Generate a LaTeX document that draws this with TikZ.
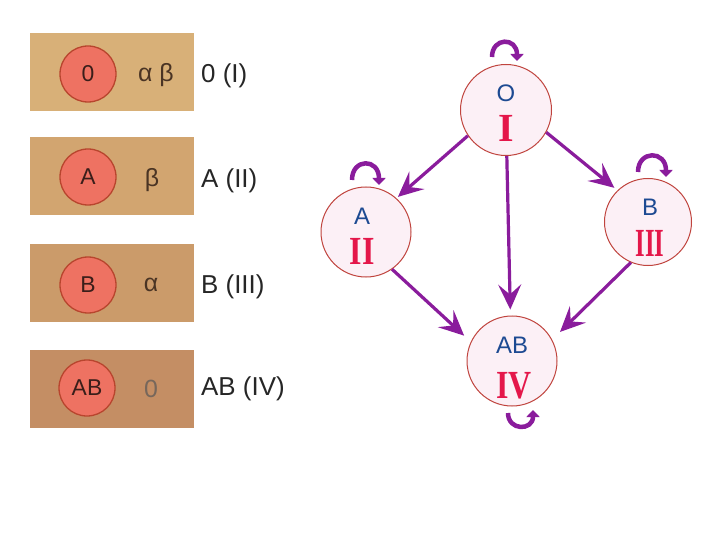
\documentclass[tikz,border=0pt]{standalone}
\usepackage{fontspec}
\setmainfont{Liberation Sans}
\newfontfamily\romfont{Liberation Serif}
\usetikzlibrary{arrows.meta}
\definecolor{tanA}{HTML}{D8B078}
\definecolor{tanB}{HTML}{D2A570}
\definecolor{tanC}{HTML}{CB9B6A}
\definecolor{tanD}{HTML}{C48E64}
\definecolor{cellred}{HTML}{EE7262}
\definecolor{celledge}{HTML}{B8452E}
\definecolor{celltext}{HTML}{3A1E1A}
\definecolor{greektext}{HTML}{4A3424}
\definecolor{grpedge}{HTML}{C0443E}
\definecolor{grpfill}{HTML}{FCF0F6}
\definecolor{grpblue}{HTML}{1D4A92}
\definecolor{grpred}{HTML}{E4174A}
\definecolor{arrowpurple}{HTML}{8A1C9C}
\begin{document}
\begin{tikzpicture}[x=1bp,y=-1bp,
  bloodbox/.style={rectangle, fill=#1, draw=none, minimum width=164bp, minimum height=78bp, inner sep=0, anchor=north west},
  cell/.style={circle, fill=cellred, draw=celledge, line width=1.3bp, minimum size=56bp, inner sep=0, font=\fontsize{23}{23}\selectfont, text=celltext},
  greek/.style={font=\fontsize{25}{25}\selectfont, text=greektext, inner sep=0},
  grouplabel/.style={anchor=west, inner sep=0, font=\fontsize{26}{26}\selectfont, text=black!85},
  group/.style={circle, draw=grpedge, fill=grpfill, line width=1bp, minimum size=90bp, inner sep=0},
  letter/.style={text=grpblue, font=\fontsize{24}{24}\selectfont, inner sep=0},
  numeral/.style={text=grpred, font=\romfont\bfseries\fontsize{40}{40}\selectfont, inner sep=0},
  flow/.style={draw=arrowpurple, line width=3.2bp, -{Stealth[length=25bp,width=23bp,inset=10bp]}},
  selfloop/.style={draw=arrowpurple, line width=4.5bp, -{Triangle[length=7bp,width=13bp]}}
]
\useasboundingbox (0,0) rectangle (720,540);
\fill[white] (0,0) rectangle (720,540);

% left panel
\node[bloodbox=tanA] (box1) at (30,33) {};
\node[bloodbox=tanB] (box2) at (30,137) {};
\node[bloodbox=tanC] (box3) at (30,244) {};
\node[bloodbox=tanD] (box4) at (30,350) {};

\node[cell] (c1) at (88,74) {0};
\node[cell] (c2) at (88,177) {A};
\node[cell] (c3) at (88,285) {B};
\node[cell] (c4) at (87,388) {AB};

\node[greek] (g1) at (156,75) {α β};
\node[greek] (g2) at (152,180) {β};
\node[greek] (g3) at (151,285) {α};
\node[greek, text=greektext!75] (g4) at (151,389) {0};

\node[grouplabel] (l1) at (201,76) {0 (I)};
\node[grouplabel] (l2) at (201,181) {A (II)};
\node[grouplabel] (l3) at (201,287) {B (III)};
\node[grouplabel] (l4) at (201,389) {AB (IV)};

% right diagram
\node[group, minimum size=91bp] (O) at (506,110) {};
\node[group] (A) at (366,232) {};
\node[group, minimum size=87bp] (B) at (648,222) {};
\node[group] (AB) at (512,361) {};

\node[letter] (Ot) at (506,93) {O};
\node[numeral] (On) at (506,128) {I};
\node[letter] (At) at (362,216) {A};
\node[numeral] (An) at (362,251) {\scalebox{0.8}[1]{II}};
\node[letter] (Bt) at (650,207) {B};
\node[numeral] (Bn) at (650,243) {\scalebox{0.62}[1]{III}};
\node[letter] (ABt) at (512,345) {AB};
\node[numeral] (ABn) at (514,386) {\scalebox{0.8}[1]{IV}};

\draw[flow, shorten >=2bp] (O.-146) -- (A.48);
\draw[flow, shorten >=6bp] (O.-89) -- (AB.92);
\draw[flow, shorten >=4bp] (O.-29) -- (B.134);
\draw[flow, shorten >=9bp] (A.-55) -- (AB.155);
\draw[flow, shorten >=11bp] (B.-113) -- (AB.28);

% self loops
\coordinate (o1) at (492,57);
\coordinate (o2) at (517,61);
\draw[selfloop] (o1) .. controls (492,37) and (517,37) .. (o2);
\coordinate (a1) at (352,180);
\coordinate (a2) at (379,185);
\draw[selfloop] (a1) .. controls (352,158) and (379,158) .. (a2);
\coordinate (b1) at (638,172);
\coordinate (b2) at (666,177);
\draw[selfloop] (b1) .. controls (638,150) and (666,150) .. (b2);
\coordinate (ab1) at (508,413);
\coordinate (ab2) at (533,410);
\draw[selfloop] (ab1) .. controls (508,431) and (533,431) .. (ab2);
\end{tikzpicture}
\end{document}
